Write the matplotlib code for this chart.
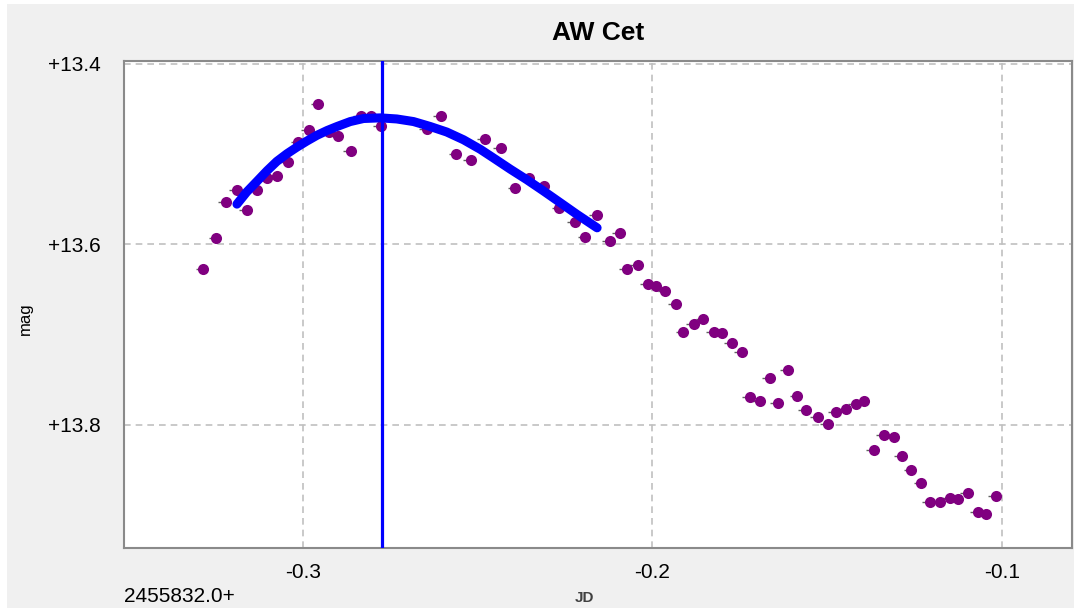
import matplotlib
matplotlib.use('Agg')
import matplotlib.pyplot as plt
from matplotlib.patches import Rectangle

# observations (JD offset from 2455832.0, magnitude)
jd = [-0.3284, -0.3247, -0.3219, -0.3188, -0.3160, -0.3131, -0.3102, -0.3074, -0.3042, -0.3012,
      -0.2983, -0.2955, -0.2926, -0.2898, -0.2862, -0.2834, -0.2805, -0.2776, -0.2645, -0.2604,
      -0.2561, -0.2519, -0.2480, -0.2433, -0.2392, -0.2354, -0.2311, -0.2266, -0.2221, -0.2192,
      -0.2158, -0.2122, -0.2094, -0.2073, -0.2042, -0.2013, -0.1990, -0.1963, -0.1933, -0.1911,
      -0.1882, -0.1854, -0.1825, -0.1801, -0.1772, -0.1744, -0.1722, -0.1693, -0.1665, -0.1642,
      -0.1613, -0.1585, -0.1561, -0.1527, -0.1499, -0.1475, -0.1446, -0.1418, -0.1394, -0.1367,
      -0.1339, -0.1310, -0.1286, -0.1259, -0.1231, -0.1207, -0.1178, -0.1150, -0.1126, -0.1098,
      -0.1070, -0.1046, -0.1017]
mag = [13.628, 13.593, 13.553, 13.540, 13.562, 13.540, 13.527, 13.524, 13.509, 13.487,
       13.473, 13.444, 13.476, 13.480, 13.497, 13.458, 13.458, 13.469, 13.472, 13.458,
       13.500, 13.506, 13.483, 13.493, 13.538, 13.527, 13.535, 13.560, 13.575, 13.592,
       13.568, 13.596, 13.588, 13.628, 13.623, 13.644, 13.646, 13.652, 13.666, 13.697,
       13.688, 13.683, 13.697, 13.699, 13.710, 13.720, 13.770, 13.774, 13.748, 13.776,
       13.739, 13.768, 13.784, 13.792, 13.799, 13.786, 13.783, 13.777, 13.774, 13.828,
       13.812, 13.814, 13.835, 13.851, 13.865, 13.886, 13.886, 13.881, 13.883, 13.876,
       13.897, 13.899, 13.879]
jd_err = 0.0022

# fitted curve
fit_jd = [-0.3188, -0.3160, -0.3131, -0.3102, -0.3074, -0.3045, -0.3017, -0.2988, -0.2959, -0.2930,
          -0.2902, -0.2864, -0.2826, -0.2778, -0.2731, -0.2683, -0.2635, -0.2588, -0.2540, -0.2492,
          -0.2454, -0.2406, -0.2359, -0.2311, -0.2263, -0.2216, -0.2158]
fit_mag = [13.5555, 13.5420, 13.5303, 13.5185, 13.5081, 13.4996, 13.4924, 13.4855, 13.4791, 13.4738,
           13.4694, 13.4639, 13.4605, 13.4598, 13.4610, 13.4639, 13.4694, 13.4755, 13.4841, 13.4947,
           13.5044, 13.5168, 13.5284, 13.5410, 13.5540, 13.5668, 13.5818]
t_max = -0.2773

x_ticks = [-0.3, -0.2, -0.1]
y_ticks = [13.4, 13.6, 13.8]

plt.rcParams['font.family'] = ['Liberation Sans', 'DejaVu Sans']

fig = plt.figure(figsize=(10.74, 6.10), dpi=100, facecolor='white')
fig.patches.append(Rectangle((7 / 1074, 2 / 610), 1, 604 / 610, transform=fig.transFigure,
                             facecolor='#f0f0f0', edgecolor='none', zorder=-10))
ax = fig.add_axes([124 / 1074, 1 - 548 / 610, 948 / 1074, 487 / 610])
ax.set_facecolor('white')

ax.errorbar(jd, mag, xerr=[[jd_err] * len(jd), [0] * len(jd)], fmt='none',
            ecolor='#606060', elinewidth=1, zorder=2)
ax.plot(jd, mag, 'o', color='#800080', markersize=8, markeredgewidth=0, zorder=3)
ax.plot(fit_jd, fit_mag, '-', color='#0000ff', linewidth=6.5, solid_capstyle='round',
        solid_joinstyle='round', zorder=4)
ax.axvline(t_max, color='#0000ff', linewidth=2.3, zorder=5)

ax.set_xlim(-0.3511, -0.0800)
ax.set_ylim(13.937, 13.3967)
ax.set_xticks(x_ticks)
ax.set_xticklabels(['%.1f' % v for v in x_ticks])
ax.set_yticks(y_ticks)
ax.set_yticklabels(['+%.1f' % v for v in y_ticks])
ax.tick_params(length=0, labelsize=15)
ax.tick_params(axis='y', pad=17)
ax.tick_params(axis='x', pad=11)
ax.grid(True, color='#c0c0c0', linestyle=(0, (4, 3)), linewidth=1.2)
ax.set_axisbelow(True)
for s in ax.spines.values():
    s.set_color('#8a8a8a')
    s.set_linewidth(1.5)

fig.text(598 / 1074, 1 - 33 / 610, 'AW Cet', ha='center', va='center', fontsize=19,
         fontweight='bold')
fig.text(124 / 1074, 1 - 597 / 610, '2455832.0+', ha='left', va='center', fontsize=15)
fig.text(584 / 1074, 1 - 598 / 610, 'JD', ha='center', va='center', fontsize=11,
         fontweight='bold', color='#404040')
fig.text(25 / 1074, 1 - 319 / 610, 'mag', ha='center', va='center', fontsize=12,
         rotation=90)

fig.savefig('out.png', dpi=100, facecolor=fig.get_facecolor())
